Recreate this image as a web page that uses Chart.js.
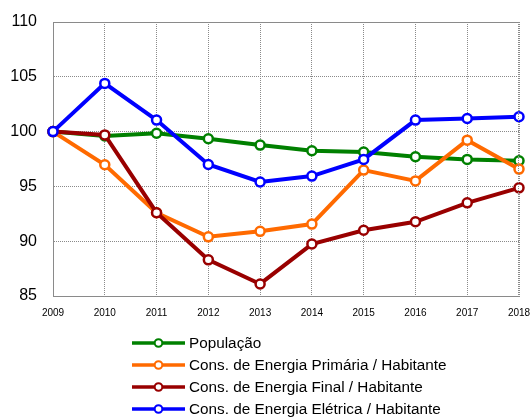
<!DOCTYPE html>
<html>
<head>
<meta charset="utf-8">
<script src="https://cdn.jsdelivr.net/npm/chart.js@4"></script>
<style>
  html, body { margin: 0; padding: 0; background: #fff; }
  #wrap { position: relative; width: 532px; height: 419px; }
  #c { position: absolute; left: 0; top: 0; }
  #legend { position: absolute; left: 131px; top: 332px; font-family: "Liberation Sans", Arial, sans-serif; font-size: 15.3px; color: #000; }
  .row { height: 22px; display: flex; align-items: center; white-space: nowrap; }
  .row svg { margin-right: 3px; }
</style>
</head>
<body>
<div id="wrap">
  <canvas id="c" width="532" height="419"></canvas>
  <div id="legend"></div>
</div>
<script>
const years = ["2009","2010","2011","2012","2013","2014","2015","2016","2017","2018"];
const populacao = [100, 99.6, 99.85, 99.35, 98.77, 98.25, 98.13, 97.7, 97.46, 97.34];
const energiaPrimaria = [100, 96.97, 92.6, 90.4, 90.9, 91.56, 96.49, 95.5, 99.22, 96.58];
const energiaFinal = [100, 99.7, 92.6, 88.3, 86.1, 89.74, 91.0, 91.77, 93.5, 94.87];
const energiaEletrica = [100, 104.4, 101.05, 97.0, 95.4, 95.94, 97.46, 101.05, 101.2, 101.35];
const seriesNames = ["População", "Cons. de Energia Primária / Habitante", "Cons. de Energia Final / Habitante", "Cons. de Energia Elétrica / Habitante"];
const seriesColors = ["#008000", "#FF6A00", "#990000", "#0000FF"];
const yTicks = [85, 90, 95, 100, 105, 110];

const seriesData = [populacao, energiaPrimaria, energiaFinal, energiaEletrica];
const datasets = seriesData.map((d, i) => ({
  label: seriesNames[i],
  data: d,
  borderColor: seriesColors[i],
  backgroundColor: "#ffffff",
  borderWidth: 4,
  pointRadius: 4.5,
  pointBorderWidth: 2.5,
  pointBackgroundColor: "#ffffff",
  pointBorderColor: seriesColors[i],
  tension: 0
}));
datasets.forEach((ds, i) => { ds.order = 4 - i; });

new Chart(document.getElementById("c"), {
  type: "line",
  data: { labels: years, datasets: datasets },
  options: {
    responsive: false,
    animation: false,
    layout: { padding: { left: 0, right: 13, top: 22, bottom: 103 } },
    plugins: { legend: { display: false }, tooltip: { enabled: false } },
    scales: {
      x: {
        offset: false,
        grid: { color: "#8a8a8a", lineWidth: 1, drawTicks: false },
        border: { color: "#8a8a8a", dash: [1, 1] },
        ticks: { color: "#000", font: { family: "Liberation Sans", size: 10 }, padding: 11, maxRotation: 0, autoSkip: false },
        afterFit: s => { s.height = 20; s.paddingLeft = 0; s.paddingRight = 0; s.paddingTop = 0; s.paddingBottom = 0; }
      },
      y: {
        min: 85, max: 110,
        afterBuildTicks: s => { s.ticks = yTicks.map(v => ({ value: v })); },
        grid: { color: "#8a8a8a", lineWidth: 1, drawTicks: false },
        border: { color: "#8a8a8a", dash: [1, 1] },
        ticks: { color: "#000", font: { family: "Liberation Sans", size: 16 }, padding: 16 },
        afterFit: s => { s.width = 53; s.paddingLeft = 0; s.paddingRight = 0; s.paddingTop = 0; s.paddingBottom = 0; }
      }
    }
  },
  plugins: [{
    id: "frame",
    afterDraw(chart) {
      const a = chart.chartArea, ctx = chart.ctx;
      ctx.save();
      ctx.strokeStyle = "#8a8a8a";
      ctx.lineWidth = 1;
      ctx.setLineDash([1, 1]);
      ctx.beginPath();
      ctx.moveTo(a.left, a.top + 0.5); ctx.lineTo(a.right, a.top + 0.5);
      ctx.moveTo(a.right - 0.5, a.top); ctx.lineTo(a.right - 0.5, a.bottom);
      ctx.stroke();
      ctx.restore();
    }
  }]
});

const leg = document.getElementById("legend");
seriesNames.forEach((name, i) => {
  const row = document.createElement("div");
  row.className = "row";
  row.innerHTML = '<svg width="55" height="14"><line x1="1" y1="7" x2="54" y2="7" stroke="' + seriesColors[i] + '" stroke-width="3.5"/><circle cx="27.5" cy="7" r="3.8" fill="#fff" stroke="' + seriesColors[i] + '" stroke-width="2"/></svg><span></span>';
  row.querySelector("span").textContent = name;
  leg.appendChild(row);
});
</script>
</body>
</html>
